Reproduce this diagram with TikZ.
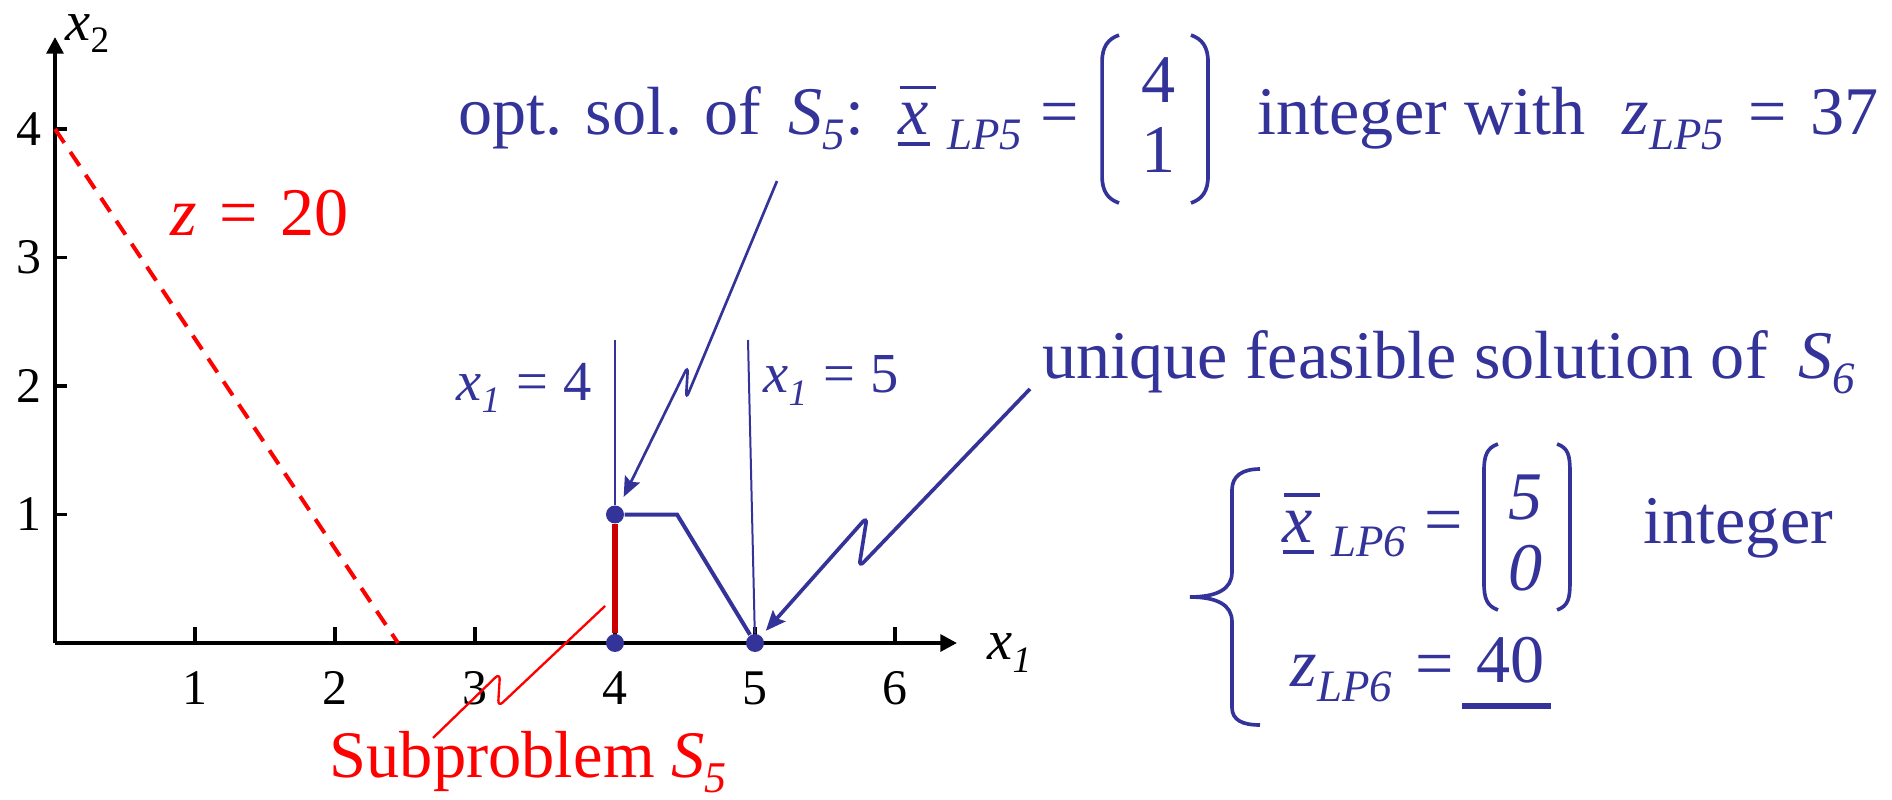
\documentclass[tikz,border=0pt]{standalone}
\usepackage{fontspec}
\setmainfont{Liberation Serif}
\usepackage{graphicx}
\usetikzlibrary{arrows.meta}
\definecolor{lpblue}{RGB}{51,51,153}
\definecolor{lpred}{RGB}{255,0,0}
\definecolor{lpdark}{RGB}{204,0,0}
\newcommand\lsub[1]{\raisebox{-0.22em}{\scalebox{0.66}{#1}}}
\newcommand\xvec{\makebox[0pt][l]{\rule[-0.17em]{0.46em}{1.1pt}}\makebox[0pt][l]{\hspace{0.02em}\rule[0.66em]{0.53em}{1.1pt}}\textit{x}}
\begin{document}
\begin{tikzpicture}[x=1.48cm,y=1.3584cm,
  txt/.style={inner sep=0pt, anchor=base west, text=lpblue, font=\fontsize{20.5}{24}\selectfont},
  eqn/.style={inner sep=0pt, anchor=base west, text=lpblue, font=\fontsize{17}{20}\selectfont},
  axlbl/.style={inner sep=0pt, anchor=base west, font=\fontsize{17}{20}\selectfont},
  redtxt/.style={inner sep=0pt, anchor=base west, text=lpred},
  num/.style={inner sep=0pt, font=\fontsize{15}{18}\selectfont},
  axis/.style={line width=1.2pt, -{Triangle[length=5pt,width=5pt]}},
  tick/.style={line width=1pt},
  dot/.style={circle, fill=lpblue, inner sep=0pt, minimum size=0.19cm},
  guide/.style={lpblue, line width=0.6pt},
  bolt/.style={lpblue, line width=1.1pt, rounded corners=2pt, -{Stealth[length=6pt,width=5pt,inset=1pt]}},
  paren/.style={lpblue, line width=1.1pt}]
\useasboundingbox (-0.3929,-1.2140) rectangle (13.1214,5.0039);

\coordinate (O) at (0,0);
\draw[axis] (O) -- (6.443,0);
\draw[axis] (O) -- (0,4.716);
\node[axlbl] (lx1) at (6.657,-0.132) {\textit{x}\lsub{\textit{1}}};
\node[axlbl] (lx2) at (0.071,4.69) {\textit{x}\lsub{2}};
\foreach \i in {1,...,6} {
  \draw[tick] (\i,0) -- (\i,0.125);
  \node[num] (tx\i) at (\i,-0.35) {\i};
}
\foreach \j in {1,...,4} {
  \draw[tick] (0,\j) -- (0.086,\j);
  \node[num] (ty\j) at (-0.186,\j) {\j};
}

\draw[lpred, line width=1.2pt, dash pattern=on 5pt off 3.3pt] (0,4) -- (2.45,0);
\node[redtxt, font=\fontsize{20.5}{24}\selectfont] (zline) at (0.821,3.175) {\textit{z}\hspace{0.33em}=\hspace{0.33em}20};

\node[dot] (p40) at (4,0) {};
\node[dot] (p41) at (4,1) {};
\node[dot] (p50) at (5,0) {};
\draw[lpdark, line width=1.8pt] (p40) -- (p41);
\draw[lpblue, line width=1.2pt] (p41) -- (4.443,1) -- (p50);

\coordinate (g4) at (4,2.358);
\coordinate (g5) at (4.95,2.358);
\draw[guide] (g4) -- (p41);
\draw[guide] (g5) -- (p50);
\node[eqn] (l4) at (2.864,1.891) {\textit{x}\lsub{\textit{1}}\hspace{0.28em}=\hspace{0.28em}4};
\node[eqn] (l5) at (5.057,1.946) {\textit{x}\lsub{\textit{1}}\hspace{0.28em}=\hspace{0.28em}5};

\node[txt] (opt) at (2.879,3.96) {opt. sol. of};
\node[txt] (s5) at (5.236,3.96) {\textit{S}\lsub{\textit{5}}:};
\node[txt] (x5) at (6.02,3.96) {\xvec\hspace{5.5pt}\lsub{\textit{LP5}}\hspace{5.5pt}=};
\draw[paren] (7.6,4.731) .. controls (7.52,4.70) and (7.479,4.64) .. (7.479,4.52) -- (7.479,3.635) .. controls (7.479,3.515) and (7.52,3.455) .. (7.6,3.424);
\draw[paren] (8.114,4.731) .. controls (8.194,4.70) and (8.236,4.64) .. (8.236,4.52) -- (8.236,3.635) .. controls (8.236,3.515) and (8.194,3.455) .. (8.114,3.424);
\node[txt, anchor=base] (v4) at (7.879,4.21) {4};
\node[txt, anchor=base] (v1) at (7.879,3.658) {1};
\node[txt] (intw) at (8.586,3.96) {integer with\hspace{0.55em}\textit{z}\lsub{\textit{LP5}}\hspace{0.35em}=\hspace{0.35em}37};

\coordinate (a1) at (5.157,3.595);
\draw[bolt, line width=0.8pt, shorten >=3pt] (a1) -- (4.507,1.899) -- (4.521,2.156) -- (p41);

\node[txt] (uniq) at (7.05,2.062) {unique feasible solution of\hspace{0.45em}\textit{S}\lsub{\textit{6}}};
\coordinate (a2) at (6.964,1.977);
\draw[bolt, shorten >=2pt] (a2) -- (5.743,0.591) -- (5.8,0.981) -- (p50);

\draw[paren] (8.607,1.354) .. controls (8.48,1.354) and (8.407,1.30) .. (8.407,1.19) -- (8.407,0.55) .. controls (8.407,0.42) and (8.30,0.358) .. (8.107,0.358) .. controls (8.30,0.358) and (8.407,0.296) .. (8.407,0.166) -- (8.407,-0.50) .. controls (8.407,-0.60) and (8.48,-0.638) .. (8.607,-0.638);
\node[txt] (x6) at (8.764,0.786) {\xvec\hspace{5.5pt}\lsub{\textit{LP6}}\hspace{5.5pt}=};
\draw[paren] (10.307,1.549) .. controls (10.227,1.518) and (10.207,1.458) .. (10.207,1.338) -- (10.207,0.468) .. controls (10.207,0.348) and (10.227,0.288) .. (10.307,0.257);
\draw[paren] (10.729,1.549) .. controls (10.809,1.518) and (10.821,1.458) .. (10.821,1.338) -- (10.821,0.468) .. controls (10.821,0.348) and (10.809,0.288) .. (10.729,0.257);
\node[txt, anchor=base] (v5) at (10.507,0.965) {\textit{5}};
\node[txt, anchor=base] (v0) at (10.507,0.412) {\textit{0}};
\node[txt] (intg) at (11.343,0.778) {integer};
\node[txt] (z6) at (8.821,-0.342) {\textit{z}\lsub{\textit{LP6}}\hspace{7pt}=};
\node[txt] (v40) at (10.15,-0.311) {40};
\draw[lpblue, line width=1.8pt] ([shift={(-0.1,-0.171)}]v40.south west) -- ([shift={(0.036,-0.171)}]v40.south east);

\node[redtxt, font=\fontsize{20}{24}\selectfont] (sub5) at (1.957,-1.05) {Subproblem \textit{S}\lsub{\textit{5}}};
\coordinate (sp) at (2.7,-0.739);
\coordinate (sq) at (3.929,0.288);
\draw[lpred, line width=0.7pt, rounded corners=2pt] (sp) -- (3.179,-0.233) -- (3.164,-0.498) -- (sq);
\end{tikzpicture}
\end{document}
